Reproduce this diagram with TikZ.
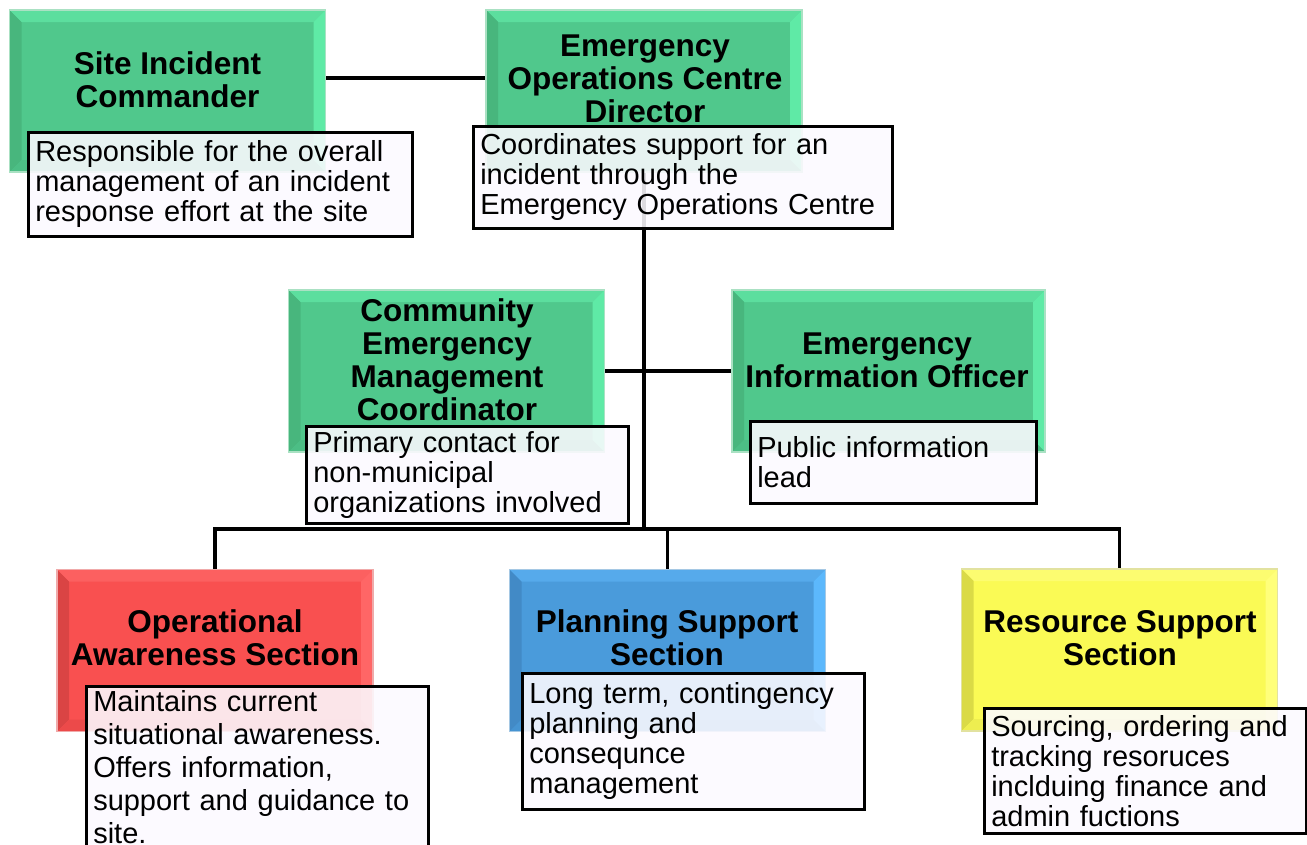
\documentclass[tikz,border=0pt]{standalone}
\usepackage{fontspec}
\setmainfont{Liberation Sans}
\definecolor{gM}{RGB}{80,200,140}
\definecolor{gT}{RGB}{92,222,158}
\definecolor{gL}{RGB}{72,182,125}
\definecolor{gR}{RGB}{95,234,166}
\definecolor{gB}{RGB}{76,190,133}
\definecolor{gO}{RGB}{170,225,195}
\definecolor{rM}{RGB}{249,80,80}
\definecolor{rT}{RGB}{252,96,96}
\definecolor{rL}{RGB}{218,68,68}
\definecolor{rR}{RGB}{255,102,102}
\definecolor{rB}{RGB}{236,74,74}
\definecolor{rO}{RGB}{240,170,170}
\definecolor{bM}{RGB}{74,155,219}
\definecolor{bT}{RGB}{86,170,235}
\definecolor{bL}{RGB}{66,138,198}
\definecolor{bR}{RGB}{92,184,252}
\definecolor{bB}{RGB}{70,148,210}
\definecolor{bO}{RGB}{165,200,228}
\definecolor{yM}{RGB}{250,250,85}
\definecolor{yT}{RGB}{252,252,112}
\definecolor{yL}{RGB}{218,218,70}
\definecolor{yR}{RGB}{255,255,122}
\definecolor{yB}{RGB}{238,238,80}
\definecolor{yO}{RGB}{226,226,160}
\definecolor{descfill}{RGB}{252,250,255}
\newcommand\descfont{\fontsize{29pt}{30pt}\selectfont}
\newcommand\descfontb{\fontsize{29pt}{33pt}\selectfont}
\newcommand\titlefont{\fontsize{31.5pt}{33pt}\selectfont\bfseries}
\tikzset{
  bevel/.style={minimum width=316pt, minimum height=162pt, inner sep=0pt,
    fill=#1M, draw=#1O, line width=1.5pt,
    path picture={
      \fill[#1T] (path picture bounding box.north west) -- (path picture bounding box.north east)
        -- ([shift={(-12pt,-12pt)}]path picture bounding box.north east)
        -- ([shift={(12pt,-12pt)}]path picture bounding box.north west) -- cycle;
      \fill[#1L] (path picture bounding box.north west) -- (path picture bounding box.south west)
        -- ([shift={(12pt,12pt)}]path picture bounding box.south west)
        -- ([shift={(12pt,-12pt)}]path picture bounding box.north west) -- cycle;
      \fill[#1R] (path picture bounding box.north east) -- (path picture bounding box.south east)
        -- ([shift={(-12pt,12pt)}]path picture bounding box.south east)
        -- ([shift={(-12pt,-12pt)}]path picture bounding box.north east) -- cycle;
      \fill[#1B] (path picture bounding box.south west) -- (path picture bounding box.south east)
        -- ([shift={(-12pt,12pt)}]path picture bounding box.south east)
        -- ([shift={(12pt,12pt)}]path picture bounding box.south west) -- cycle;
    }},
  titletext/.style={font=\titlefont, align=center, inner sep=0pt, text=black},
  descbox/.style={draw=black, line width=2.5pt, fill=descfill, fill opacity=0.88,
    text opacity=1, draw opacity=1, anchor=north west, inner xsep=7pt, inner ysep=0pt,
    align=left, font=\descfont, text=black},
  conn/.style={draw=black, line width=3.5pt, line join=miter}
}
\begin{document}
\begin{tikzpicture}[x=1pt,y=-1pt]
\clip (0,0) rectangle (1307,844);
\fill[white] (0,0) rectangle (1307,844);
% coloured boxes
\node[bevel=g] (sic)  at (167.5,91) {};
\node[bevel=g] (eoc)  at (644,91) {};
\node[bevel=g] (cemc) at (446.5,371) {};
\node[bevel=g, minimum width=313pt] (eio) at (888.5,371) {};
\node[bevel=r] (oas)  at (215,650.5) {};
\node[bevel=b] (pss)  at (667.5,650.5) {};
\node[bevel=y] (rss)  at (1119.5,650) {};
% connectors
\coordinate (bus) at (645,529);
\draw[conn] ([yshift=13pt]sic.east) -- ([yshift=13pt]sic.east -| eoc.west);
\draw[conn] (eoc.south) -- (eoc.south |- bus);
\draw[conn] (cemc.east) -- (eio.west);
\draw[conn] (oas.north) -- (oas.north |- bus) -- (rss.north |- bus) -- (rss.north);
\draw[conn] (pss.north |- bus) -- (pss.north);
% titles
\node[titletext] (sict)  at (167.5,79.5) {Site Incident\\Commander};
\node[titletext] (eoct)  at (645,79) {Emergency\\Operations Centre\\Director};
\node[titletext] (cemct) at (447,359.5) {Community\\Emergency\\Management\\Coordinator};
\node[titletext] (eiot)  at (887,360.5) {Emergency\\Information Officer};
\node[titletext] (oast)  at (215,638) {Operational\\Awareness Section};
\node[titletext] (psst)  at (667,638) {Planning Support\\Section};
\node[titletext] (rsst)  at (1120,638) {Resource Support\\Section};
% description boxes
\node[descbox, text width=370pt, minimum height=104pt] (sicd) at (27,131)
  {Responsible for the overall\\management of an incident\\response effort at the site};
\node[descbox, text width=405pt, minimum height=102pt] (eocd) at (472,125)
  {Coordinates support for an\\incident through the\\Emergency Operations Centre};
\node[descbox, text width=308pt, minimum height=97pt] (cemcd) at (305,425)
  {Primary contact for\\non-municipal\\organizations involved};
\node[descbox, text width=272pt, minimum height=82pt] (eiod) at (749,420)
  {Public information\\lead};
\node[descbox, font=\descfontb, text width=328pt, minimum height=161pt] (oasd) at (85,685)
  {Maintains current\\situational awareness.\\Offers information,\\support and guidance to\\site.};
\node[descbox, text width=328pt, minimum height=136pt] (pssd) at (521,672)
  {Long term, contingency\\planning and\\consequnce\\management};
\node[descbox, text width=308pt, minimum height=125pt] (rssd) at (983,707)
  {Sourcing, ordering and\\tracking resoruces\\inclduing finance and\\admin fuctions};
\end{tikzpicture}
\end{document}
